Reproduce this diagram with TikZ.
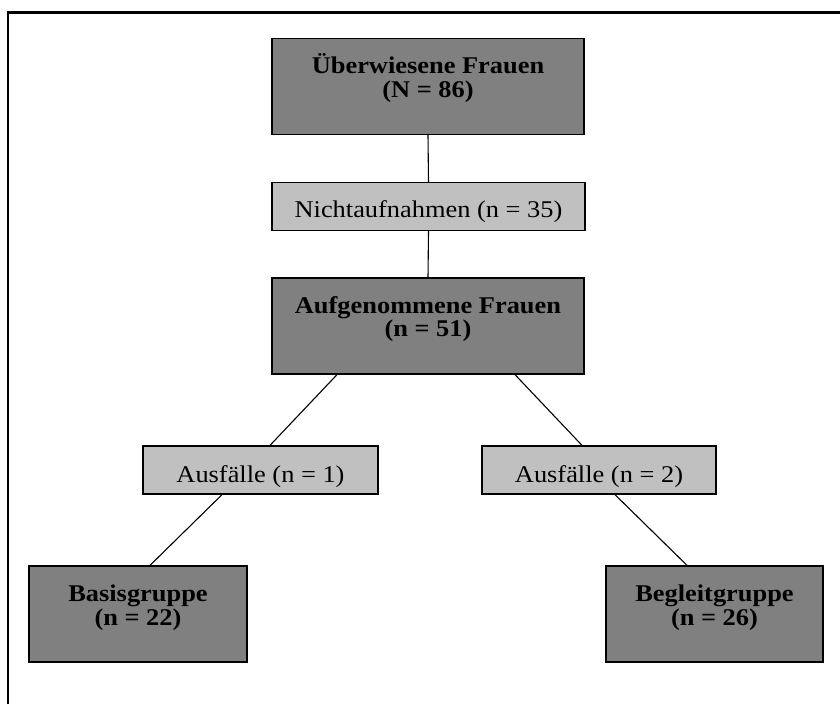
\documentclass[tikz,border=0pt]{standalone}
\usepackage{fontspec}
\setmainfont{Liberation Serif}[FakeStretch=1.1]
\usetikzlibrary{calc}
\definecolor{darkfill}{RGB}{128,128,128}
\definecolor{lightfill}{RGB}{192,192,192}
\tikzset{
  darkbox/.style={draw=black, line width=1.3pt, fill=darkfill, rectangle, inner sep=0pt, minimum width=312pt, minimum height=96pt},
  lightbox/.style={draw=black, line width=1.3pt, fill=lightfill, rectangle, inner sep=0pt, minimum height=48pt},
  boldtxt/.style={font=\fontsize{24}{24}\selectfont\bfseries, anchor=base, inner sep=0pt},
  plaintxt/.style={font=\fontsize{24}{24}\selectfont, anchor=base, inner sep=0pt},
  link/.style={draw=black, line width=1.1pt},
  frameline/.style={draw=black, line width=2.2pt}
}
\begin{document}
\begin{tikzpicture}[x=1pt,y=-1pt]
\useasboundingbox (0,0) rectangle (840,704);
\draw[frameline] (8,704) -- (8,12.5) -- (840,12.5);

% boxes
\node[darkbox] (top) at (428,86.5) {};
\node[lightbox, minimum width=313pt] (nicht) at (428.5,206.5) {};
\node[darkbox] (aufg) at (428,326) {};
\node[lightbox, minimum width=235pt] (aus1) at (260.5,470) {};
\node[lightbox, minimum width=234pt] (aus2) at (599,470) {};
\node[darkbox, minimum width=218pt] (basis) at (138,614) {};
\node[darkbox, minimum width=217pt] (begl) at (714.5,614) {};

% texts
\node[boldtxt] (topA) at (428,73.5) {Überwiesene Frauen};
\node[boldtxt] (topB) at (428,97) {(N = 86)};
\node[plaintxt] (nichtT) at (428.5,217) {Nichtaufnahmen (n = 35)};
\node[boldtxt] (aufgA) at (428,313) {Aufgenommene Frauen};
\node[boldtxt] (aufgB) at (428,336.5) {(n = 51)};
\node[plaintxt] (aus1T) at (260.5,482.5) {Ausfälle (n = 1)};
\node[plaintxt] (aus2T) at (599,482.5) {Ausfälle (n = 2)};
\node[boldtxt] (basisA) at (138,601.5) {Basisgruppe};
\node[boldtxt] (basisB) at (138,625.5) {(n = 22)};
\node[boldtxt] (beglA) at (714.5,601.5) {Begleitgruppe};
\node[boldtxt] (beglB) at (714.5,625.5) {(n = 26)};

% connectors
\draw[link] (top.south) -- (nicht.north);
\draw[link] (nicht.south) -- (aufg.north);
\draw[link] ([xshift=-91pt]aufg.south) -- ([xshift=9.5pt]aus1.north);
\draw[link] ([xshift=-38.5pt]aus1.south) -- ([xshift=12pt]basis.north);
\draw[link] ([xshift=87pt]aufg.south) -- ([xshift=-17pt]aus2.north);
\draw[link] ([xshift=16pt]aus2.south) -- ([xshift=-27.5pt]begl.north);
\end{tikzpicture}
\end{document}
